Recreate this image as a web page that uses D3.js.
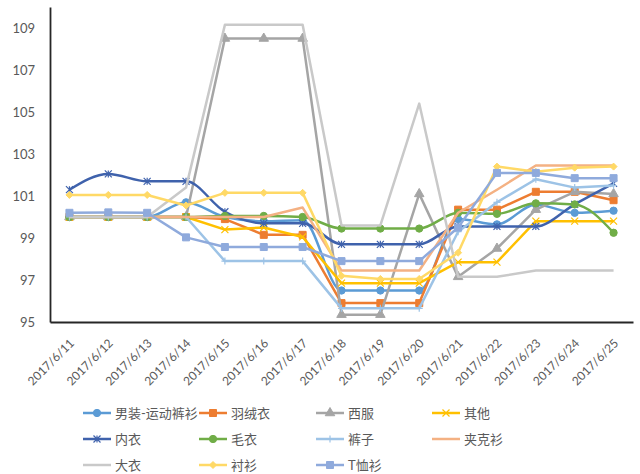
<!DOCTYPE html>
<html>
<head>
<meta charset="utf-8">
<script src="https://cdn.jsdelivr.net/npm/d3@7/dist/d3.min.js"></script>
<style>
  html, body { margin: 0; padding: 0; background: #fff; }
  svg { display: block; }
  text { font-family: Lato, "Noto Sans CJK SC", sans-serif; fill: #595959; }
</style>
</head>
<body>
<svg id="chart" width="640" height="474"></svg>
<script>
const dates = ["2017/6/11","2017/6/12","2017/6/13","2017/6/14","2017/6/15","2017/6/16","2017/6/17","2017/6/18","2017/6/19","2017/6/20","2017/6/21","2017/6/22","2017/6/23","2017/6/24","2017/6/25"];
const yTicks = [95, 97, 99, 101, 103, 105, 107, 109];

const seriesNames = ["男装-运动裤衫","羽绒衣","西服","其他","内衣","毛衣","裤子","夹克衫","大衣","衬衫","T恤衫"];

const menSport = [100.0,100.0,100.0,100.7,100.0,99.8,99.85,96.5,96.5,96.5,99.9,99.65,100.6,100.2,100.3];
const downCoat = [100.0,100.0,100.0,100.0,99.9,99.15,99.15,95.9,95.9,95.9,100.35,100.35,101.2,101.2,100.8];
const suit     = [100.0,100.0,100.0,100.0,108.5,108.5,108.5,95.35,95.35,101.1,97.15,98.5,100.35,101.2,101.1];
const other    = [100.0,100.0,100.0,100.0,99.4,99.5,99.05,96.85,96.85,96.85,97.85,97.85,99.8,99.8,99.8];
const underwear= [101.3,102.05,101.7,101.7,100.25,99.7,99.7,98.7,98.7,98.7,99.55,99.55,99.55,100.6,101.6];
const sweater  = [100.0,100.0,100.0,100.0,100.05,100.05,100.0,99.45,99.45,99.45,100.2,100.15,100.65,100.6,99.25];
const pants    = [100.0,100.0,100.0,100.0,97.9,97.9,97.9,95.65,95.65,95.65,99.3,100.7,101.8,101.4,101.5];
const jacket   = [100.0,100.0,100.0,100.0,100.0,100.0,100.45,97.45,97.45,97.45,100.2,101.3,102.45,102.45,102.45];
const overcoat = [100.0,100.0,100.0,101.4,109.15,109.15,109.15,99.6,99.6,105.4,97.15,97.15,97.45,97.45,97.45];
const shirt    = [101.05,101.05,101.05,100.55,101.15,101.15,101.15,97.2,97.05,97.05,98.3,102.4,102.15,102.35,102.4];
const tshirt   = [100.2,100.22,100.2,99.03,98.57,98.57,98.57,97.9,97.9,97.9,99.5,102.1,102.1,101.85,101.85];

const seriesValues = [menSport, downCoat, suit, other, underwear, sweater, pants, jacket, overcoat, shirt, tshirt];
const seriesColors = ["#5B9BD5","#ED7D31","#A5A5A5","#FFC000","#3F62AC","#70AD47","#9DC3E6","#F4B183","#C9C9C9","#FFD966","#8FAADC"];
const seriesMarkers = ["circle","square","triangle","x","star","circle","plus","none","none","diamond","square"];
const seriesSmooth = [true,false,false,false,true,true,false,false,false,false,false];

const svg = d3.select("#chart");

const x = d3.scalePoint().domain(dates).range([50, 633]).padding(0.5);
const y = d3.scaleLinear().domain([95, 110]).range([322, 7]);

// axes
const yAxis = svg.append("g").attr("transform", "translate(50,0)")
  .call(d3.axisLeft(y).tickValues(yTicks).tickSize(0).tickSizeOuter(0).tickPadding(15).tickFormat(d3.format("d")));
yAxis.select(".domain").attr("stroke", "#262626").attr("stroke-width", 1.8);
yAxis.selectAll("text").style("font-size", "13px").attr("fill", "#404040");

const xAxis = svg.append("g").attr("transform", "translate(0,322)")
  .call(d3.axisBottom(x).tickSize(0).tickSizeOuter(0));
xAxis.select(".domain").attr("stroke", "#262626").attr("stroke-width", 1.8);
xAxis.selectAll("text")
  .style("font-size", "12px")
  .attr("fill", "#404040")
  .attr("text-anchor", "end")
  .attr("dy", null)
  .attr("y", 0)
  .attr("transform", "translate(5,22) rotate(-45)");

function markerPath(type, size) {
  const s = size;
  switch (type) {
    case "circle": return d3.symbol(d3.symbolCircle, s * s * 0.85)();
    case "square": return `M${-s/2},${-s/2}h${s}v${s}h${-s}Z`;
    case "triangle": return d3.symbol(d3.symbolTriangle, s * s * 0.8)();
    case "diamond": return `M0,${-s/2}L${s/2},0L0,${s/2}L${-s/2},0Z`;
    case "x": return `M${-s/2},${-s/2}L${s/2},${s/2}M${-s/2},${s/2}L${s/2},${-s/2}`;
    case "plus": return `M${-s/2},0H${s/2}M0,${-s/2}V${s/2}`;
    case "star": return `M${-s/2},${-s/2}L${s/2},${s/2}M${-s/2},${s/2}L${s/2},${-s/2}M0,${-s/2}V${s/2}`;
    default: return "";
  }
}
function isStroked(type) { return type === "x" || type === "plus" || type === "star"; }

const plot = svg.append("g");
seriesValues.forEach((vals, i) => {
  const line = d3.line()
    .x((d, j) => x(dates[j]))
    .y(d => y(d))
    .curve(seriesSmooth[i] ? d3.curveMonotoneX : d3.curveLinear);
  const g = plot.append("g");
  g.append("path").attr("d", line(vals))
    .attr("fill", "none").attr("stroke", seriesColors[i])
    .attr("stroke-width", 2.5).attr("stroke-linejoin", "round");
  if (seriesMarkers[i] !== "none") {
    g.selectAll("path.m").data(vals).join("path").attr("class", "m")
      .attr("transform", (d, j) => `translate(${x(dates[j])},${y(d)})`)
      .attr("d", markerPath(seriesMarkers[i], 7))
      .attr("fill", isStroked(seriesMarkers[i]) ? "none" : seriesColors[i])
      .attr("stroke", seriesColors[i])
      .attr("stroke-width", isStroked(seriesMarkers[i]) ? 1.2 : 1);
  }
});

// legend
const legCols = [83, 199, 316, 432];
const legRows = [413, 439, 465];
const legend = svg.append("g");
seriesNames.forEach((name, i) => {
  const cx = legCols[i % 4], cy = legRows[Math.floor(i / 4)];
  const g = legend.append("g").attr("transform", `translate(${cx},${cy})`);
  g.append("line").attr("x1", 0).attr("x2", 28).attr("y1", 0).attr("y2", 0)
    .attr("stroke", seriesColors[i]).attr("stroke-width", 2.5);
  if (seriesMarkers[i] !== "none") {
    g.append("path").attr("transform", "translate(14,0)")
      .attr("d", markerPath(seriesMarkers[i], 7))
      .attr("fill", isStroked(seriesMarkers[i]) ? "none" : seriesColors[i])
      .attr("stroke", seriesColors[i])
      .attr("stroke-width", isStroked(seriesMarkers[i]) ? 1.2 : 1);
  }
  g.append("text").attr("x", 32).attr("y", 0).attr("dy", "0.35em")
    .style("font-size", "13px").text(name);
});
</script>
</body>
</html>
